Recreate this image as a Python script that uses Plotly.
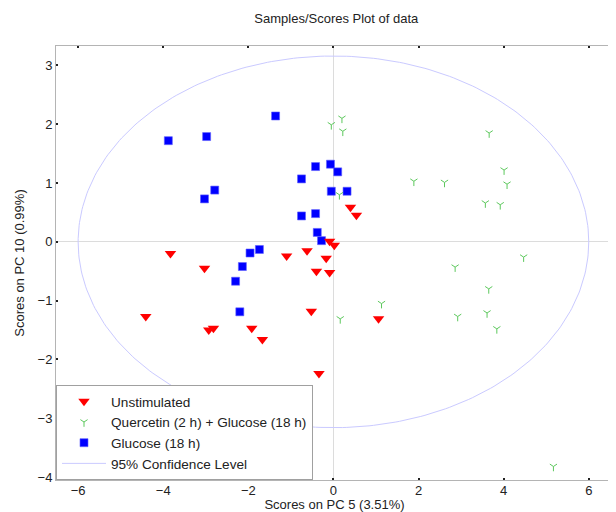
import numpy as np
import plotly.graph_objects as go

# ---- data ----
unstim_x = [-3.83, -3.03, -4.41, -2.93, -2.82, -1.92, -1.67, -2.28, -1.10, -0.62,
            -0.17, -0.09, 0.02, -0.40, -0.09, -0.52, -0.34, 1.06, 0.40, 0.54]
unstim_y = [-0.20, -0.45, -1.27, -1.50, -1.47, -1.47, -1.66, -2.51, -0.24, -0.15,
            -0.28, 0.01, -0.06, -0.50, -0.52, -1.18, -2.24, -1.31, 0.59, 0.45]

querc_x = [0.20, -0.05, 0.22, 3.66, 4.01, 4.08, 1.89, 2.61, 3.57, 3.92,
           0.14, 4.47, 2.86, 3.65, 1.13, 0.16, 2.92, 3.61, 3.84, 5.17]
querc_y = [2.10, 1.99, 1.88, 1.85, 1.22, 0.98, 1.03, 1.01, 0.66, 0.63,
           0.80, -0.26, -0.43, -0.80, -1.05, -1.31, -1.27, -1.21, -1.48, -3.82]

gluc_x = [-1.36, -3.88, -2.98, -0.42, -0.07, 0.10, -0.75, -2.79, -3.03, -0.05,
          0.32, -0.75, -0.42, -0.38, -0.28, -1.74, -1.96, -2.14, -2.30, -2.20]
gluc_y = [2.14, 1.72, 1.79, 1.28, 1.32, 1.19, 1.07, 0.88, 0.73, 0.86,
          0.86, 0.44, 0.48, 0.16, 0.02, -0.13, -0.19, -0.42, -0.67, -1.19]

conf_a = 6.0    # semi-axis along PC 5
conf_b = 3.16   # semi-axis along PC 10

x_ticks = [-6, -4, -2, 0, 2, 4, 6]
y_ticks = [-4, -3, -2, -1, 0, 1, 2, 3]

t = np.linspace(0, 2 * np.pi, 361)
ell_x = conf_a * np.cos(t)
ell_y = conf_b * np.sin(t)

FONT = "Liberation Sans, Arial, Helvetica, sans-serif"

fig = go.Figure()
fig.add_trace(go.Scatter(x=ell_x, y=ell_y, mode="lines", name="95% Confidence Level",
                         line=dict(color="#cacaff", width=1), hoverinfo="skip",
                         legendrank=4))
fig.add_trace(go.Scatter(x=gluc_x, y=gluc_y, mode="markers", name="Glucose (18 h)",
                         marker=dict(symbol="square", size=8, color="#0000ff",
                                     line=dict(width=0.6, color="#6060ff")),
                         legendrank=3))
fig.add_trace(go.Scatter(x=unstim_x, y=unstim_y, mode="markers", name="Unstimulated",
                         marker=dict(symbol="triangle-down", size=10, color="#ff0000",
                                     line=dict(width=0)),
                         legendrank=1))
fig.add_trace(go.Scatter(x=querc_x, y=querc_y, mode="markers",
                         name="Quercetin (2 h) + Glucose (18 h)",
                         marker=dict(symbol="y-down-open", size=6, color="#5cc85c",
                                     line=dict(width=1, color="#5cc85c")),
                         legendrank=2))

axis_common = dict(
    showgrid=False, zeroline=True, zerolinecolor="#dcdcdc", zerolinewidth=1,
    showline=True, linecolor="#b4b4b4", linewidth=1, mirror="ticks",
    ticks="inside", ticklen=2, tickcolor="#222222", tickwidth=1.5,
    tickfont=dict(family=FONT, size=13, color="#222222"),
    automargin=False,
)

# the page body adds an 8px offset, so the figure is 8px smaller on each axis
fig.update_layout(
    width=608, height=504,
    margin=dict(l=48, r=3, t=38, b=32),
    paper_bgcolor="white", plot_bgcolor="white",
    font=dict(family=FONT, color="#222222"),
    title=dict(text="Samples/Scores Plot of data", x=0.54, xanchor="center",
               y=0.98, yanchor="middle", font=dict(size=13, family=FONT)),
    xaxis=dict(range=[-6.52, 6.57], tickvals=x_ticks, ticklabelstandoff=-2,
               title=dict(text="Scores on PC 5 (3.51%)", standoff=1,
                          font=dict(size=13, family=FONT)),
               **axis_common),
    yaxis=dict(range=[-4.05, 3.33], tickvals=y_ticks,
               title=dict(text="Scores on PC 10 (0.99%)", standoff=10,
                          font=dict(size=13, family=FONT)),
               **axis_common),
    legend=dict(x=0, y=0, xanchor="left", yanchor="bottom",
                bgcolor="white", bordercolor="#a0a0a0", borderwidth=1,
                font=dict(size=13.6, family=FONT), itemwidth=44,
                tracegroupgap=0),
    showlegend=True,
)

fig.write_html("out.html")
